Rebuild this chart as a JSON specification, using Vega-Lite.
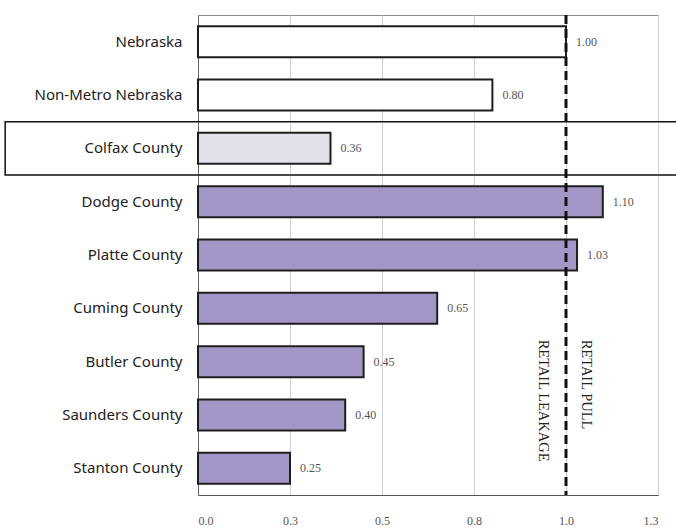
{
  "$schema": "https://vega.github.io/schema/vega-lite/v6.json",
  "width": 460,
  "height": 480,
  "autosize": {"type": "none"},
  "padding": {"left": 198, "top": 15, "right": 18, "bottom": 35},
  "background": "white",
  "config": {"view": {"stroke": "#8a8a8a", "strokeWidth": 1}},
  "data": {
    "values": [
      {"region": "Nebraska", "value": 1.00, "group": "state"},
      {"region": "Non-Metro Nebraska", "value": 0.80, "group": "state"},
      {"region": "Colfax County", "value": 0.36, "group": "colfax"},
      {"region": "Dodge County", "value": 1.10, "group": "other"},
      {"region": "Platte County", "value": 1.03, "group": "other"},
      {"region": "Cuming County", "value": 0.65, "group": "other"},
      {"region": "Butler County", "value": 0.45, "group": "other"},
      {"region": "Saunders County", "value": 0.40, "group": "other"},
      {"region": "Stanton County", "value": 0.25, "group": "other"}
    ]
  },
  "layer": [
    {
      "mark": {"type": "bar", "height": {"band": 0.58}, "stroke": "#1e1e1e", "strokeWidth": 2},
      "encoding": {
        "y": {
          "field": "region", "type": "nominal", "sort": null,
          "scale": {"paddingInner": 0, "paddingOuter": 0},
          "axis": {"title": null, "ticks": false, "domain": true, "domainColor": "#666", "labelFont": "Noto Sans", "labelFontSize": 15, "labelColor": "#222", "labelPadding": 16}
        },
        "x": {
          "field": "value", "type": "quantitative",
          "scale": {"domain": [0, 1.25], "nice": false},
          "axis": {"values": [0, 0.25, 0.5, 0.75, 1, 1.25], "format": ".1f", "title": null, "grid": true, "gridColor": "#cfcfcf", "domain": true, "domainColor": "#555", "ticks": false, "labelFont": "Liberation Serif", "labelFontSize": 12, "labelColor": "#555", "labelPadding": 20}
        },
        "fill": {
          "field": "group", "type": "nominal",
          "scale": {"domain": ["state", "colfax", "other"], "range": ["#ffffff", "#e3e0ea", "#a396c7"]},
          "legend": null
        }
      }
    },
    {
      "mark": {"type": "text", "align": "left", "dx": 10, "font": "Liberation Serif", "fontSize": 12, "color": "#555"},
      "encoding": {
        "y": {"field": "region", "type": "nominal", "sort": null},
        "x": {"field": "value", "type": "quantitative", "scale": {"domain": [0, 1.25], "nice": false}},
        "text": {"field": "value", "type": "quantitative", "format": ".2f"}
      }
    },
    {
      "transform": [{"filter": "datum.region === 'Colfax County'"}],
      "mark": {"type": "rect", "fill": null, "stroke": "#111", "strokeWidth": 1.5, "clip": false},
      "encoding": {
        "y": {"field": "region", "type": "nominal", "sort": null},
        "x": {"datum": -0.524, "type": "quantitative", "scale": {"domain": [0, 1.25], "nice": false}},
        "x2": {"datum": 1.32}
      }
    },
    {
      "data": {"values": [{}]},
      "mark": {"type": "rule", "strokeDash": [9, 5], "strokeWidth": 3, "color": "#111"},
      "encoding": {
        "x": {"datum": 1.0, "type": "quantitative", "scale": {"domain": [0, 1.25], "nice": false}}
      }
    },
    {
      "data": {"values": [{"label": "RETAIL PULL"}]},
      "mark": {"type": "text", "angle": 90, "align": "left", "baseline": "bottom", "dx": -22, "dy": -13, "font": "Liberation Serif", "fontSize": 14.5, "color": "#222"},
      "encoding": {
        "x": {"datum": 1.0, "type": "quantitative", "scale": {"domain": [0, 1.25], "nice": false}},
        "y": {"datum": "Butler County", "type": "nominal"},
        "text": {"field": "label"}
      }
    },
    {
      "data": {"values": [{"label": "RETAIL LEAKAGE"}]},
      "mark": {"type": "text", "angle": 90, "align": "left", "baseline": "top", "dx": -22, "dy": 16, "font": "Liberation Serif", "fontSize": 14.5, "color": "#222"},
      "encoding": {
        "x": {"datum": 1.0, "type": "quantitative", "scale": {"domain": [0, 1.25], "nice": false}},
        "y": {"datum": "Butler County", "type": "nominal"},
        "text": {"field": "label"}
      }
    }
  ]
}
